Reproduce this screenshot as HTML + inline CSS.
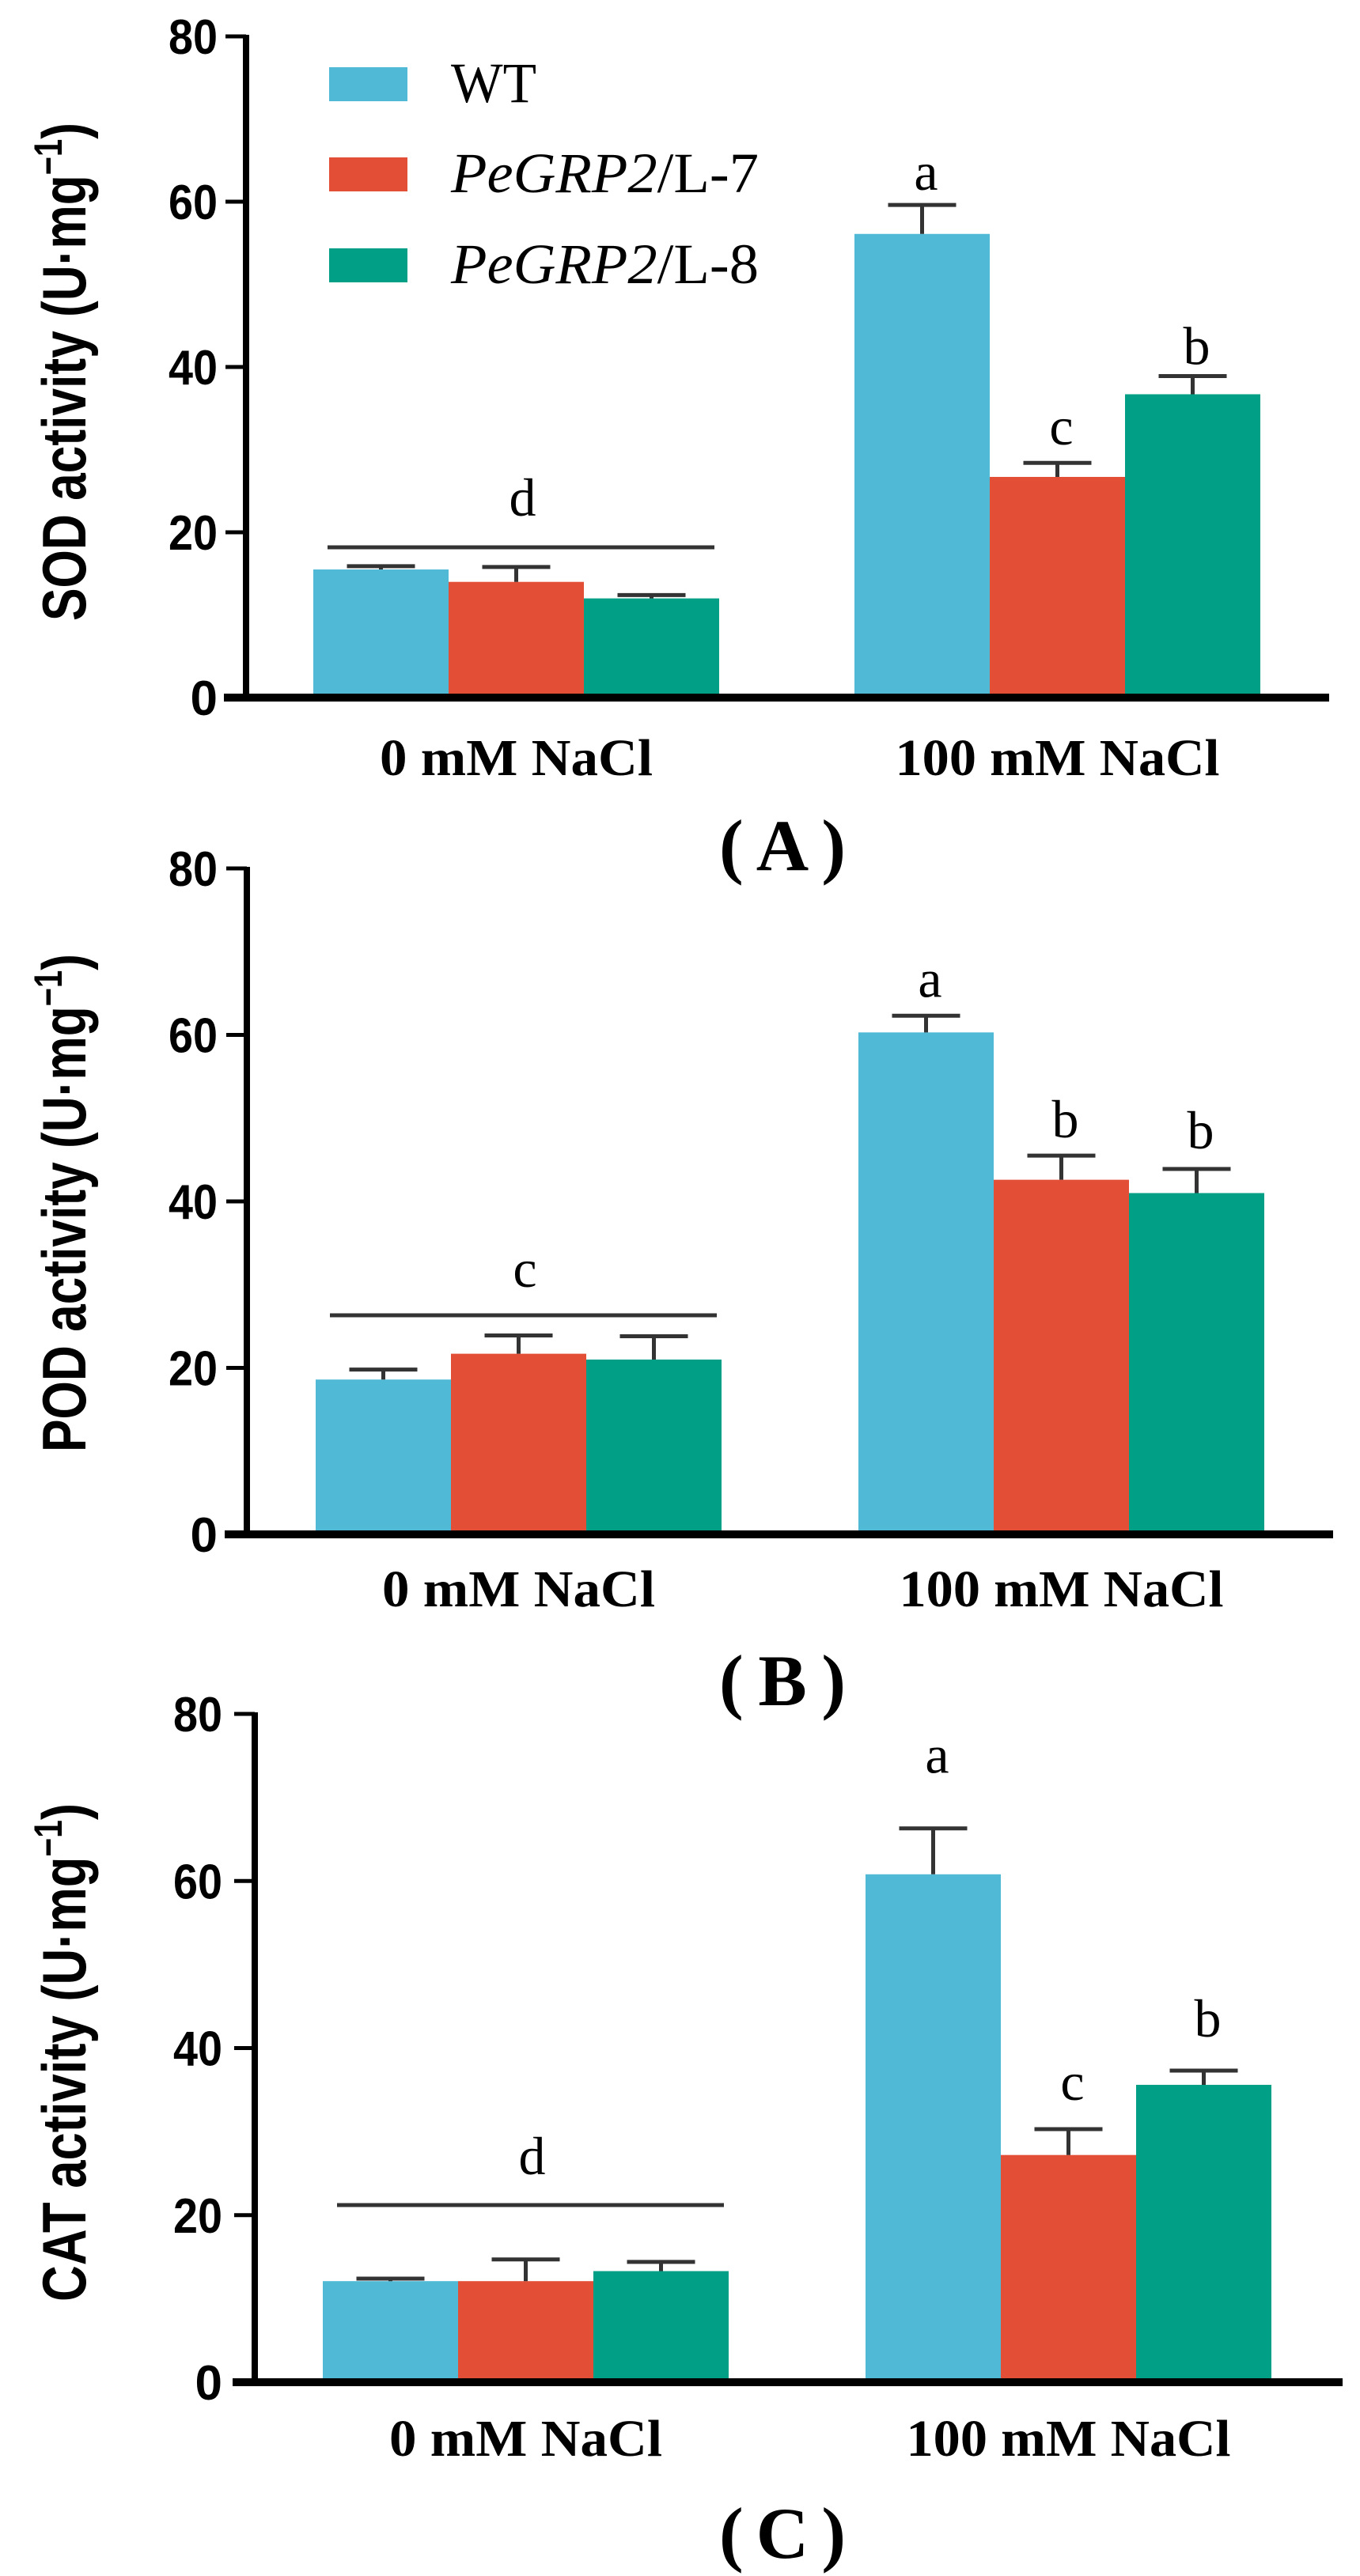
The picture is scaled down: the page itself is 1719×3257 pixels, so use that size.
<!DOCTYPE html>
<html><head><meta charset="utf-8"><style>
html,body{margin:0;padding:0;background:#fff;}
svg{display:block;}
.tick{font-family:"Liberation Sans",sans-serif;font-weight:bold;font-size:62px;}
.ytitle{font-family:"Liberation Sans",sans-serif;font-weight:bold;font-size:78px;}
.cat{font-family:"Liberation Serif",serif;font-weight:bold;font-size:66px;}
.sig{font-family:"Liberation Serif",serif;font-size:68px;}
.leg{font-family:"Liberation Serif",serif;font-size:72px;}
.plab{font-family:"Liberation Serif",serif;font-weight:bold;font-size:92px;}
</style></head><body>
<svg id="fig" width="1719" height="3257" viewBox="0 0 1719 3257" xmlns="http://www.w3.org/2000/svg"></svg>
<script>
const categories = ["0 mM NaCl", "100 mM NaCl"];
const seriesNames = ["WT", "PeGRP2/L-7", "PeGRP2/L-8"];
const yTicks = [0, 20, 40, 60, 80];
const sodValues = [[15.5, 56.1], [14.0, 26.7], [12.0, 36.7]];
const sodErrors = [[0.4, 3.5], [1.8, 1.7], [0.4, 2.2]];
const podValues = [[18.6, 60.3], [21.7, 42.6], [21.0, 41.0]];
const podErrors = [[1.2, 2.0], [2.2, 2.9], [2.8, 2.9]];
const catValues = [[12.1, 60.8], [12.1, 27.2], [13.3, 35.6]];
const catErrors = [[0.3, 5.5], [2.6, 3.1], [1.1, 1.7]];
const sodLetters = ["d", "a", "c", "b"];
const podLetters = ["c", "a", "b", "b"];
const catLetters = ["d", "a", "c", "b"];

const colors = ["#4fb9d6", "#e34f36", "#009f86"];
const NS = "http://www.w3.org/2000/svg";
const svg = document.getElementById("fig");
function mk(tag, attrs, parent) {
  const e = document.createElementNS(NS, tag);
  for (const k in attrs) e.setAttribute(k, attrs[k]);
  (parent || svg).appendChild(e);
  return e;
}

const panels = [
  {key:"sod", title:"SOD activity (U·mg", vals:sodValues, errs:sodErrors, letters:sodLetters,
   axisX:311, y80:46, y0:882, g0:396, g1:1080, bw:171, xEnd:1680, tickRight:275,
   titleC:470, titleLen:630, catY:980, labY:1100, lab:"(A)", lineY:692, letterOff:[40,19,23,15]},
  {key:"pod", title:"POD activity (U·mg", vals:podValues, errs:podErrors, letters:podLetters,
   axisX:312, y80:1098, y0:1940, g0:399, g1:1085, bw:171, xEnd:1685, tickRight:275,
   titleC:1521, titleLen:630, catY:2031, labY:2156, lab:"(B)", lineY:1663, letterOff:[36,24,23,26]},
  {key:"cat", title:"CAT activity (U·mg", vals:catValues, errs:catErrors, letters:catLetters,
   axisX:322, y80:2167, y0:3012, g0:408, g1:1094, bw:171, xEnd:1697, tickRight:281,
   titleC:2595, titleLen:630, catY:3105, labY:3234, lab:"(C)", lineY:2788, letterOff:[39,70,37,43]}
];

panels.forEach((p, pi) => {
  const g = mk("g", {});
  
  
  const yScale = v => p.y0 - (v / 80) * (p.y0 - p.y80);
  const groupX = [p.g0, p.g1];
  p.vals.forEach((sv, si) => {
    sv.forEach((v, ci) => {
      const x = groupX[ci] + si * p.bw;
      const top = yScale(v);
      const r = mk("rect", {x:x, y:top, width:p.bw, height:p.y0 - top, fill:colors[si]}, g);
      
      
      const et = yScale(v + p.errs[si][ci]);
      const cx = x + p.bw / 2;
      const eb = mk("path", {d:`M${cx} ${top} V${et} M${cx-43} ${et} H${cx+43}`, stroke:"#333", "stroke-width":5, fill:"none"}, g);
      
      
    });
  });
  const ya = mk("line", {x1:p.axisX, y1:p.y80 - 2, x2:p.axisX, y2:p.y0 + 5, stroke:"#000", "stroke-width":8}, g);
  
  
  const xa = mk("line", {x1:p.axisX - 28, y1:p.y0, x2:p.xEnd, y2:p.y0, stroke:"#000", "stroke-width":10}, g);
  
  
  yTicks.forEach(t => {
    const y = yScale(t);
    if (t > 0) {
      const tl = mk("line", {x1:p.axisX - 26, y1:y, x2:p.axisX, y2:y, stroke:"#000", "stroke-width":5}, g);
      
      
    }
    const tx = mk("text", {x:p.tickRight, y:y + 22, "text-anchor":"end", class:"tick"}, g);
    if (t > 0) { tx.setAttribute("textLength", 62); tx.setAttribute("lengthAdjust", "spacingAndGlyphs"); }
    tx.textContent = String(t);
    
    
  });
  const yt = mk("text", {x:0, y:0, transform:`translate(108 ${p.titleC}) rotate(-90)`, "text-anchor":"middle", class:"ytitle", textLength:p.titleLen, lengthAdjust:"spacingAndGlyphs"}, g);
  yt.textContent = p.title;
  const sup = mk("tspan", {dy:-30, "font-size":"50"}, yt);
  sup.textContent = "−1";
  const cl = mk("tspan", {dy:30}, yt);
  cl.textContent = ")";
  
  
  categories.forEach((c, ci) => {
    const cx = groupX[ci] + 1.5 * p.bw;
    const ct = mk("text", {x:cx, y:p.catY, "text-anchor":"middle", class:"cat", textLength: ci ? 410 : 345, lengthAdjust:"spacingAndGlyphs"}, g);
    ct.textContent = c;
    
    
  });
  const sl = mk("line", {x1:p.g0 + 18, y1:p.lineY, x2:p.g0 + 3 * p.bw - 6, y2:p.lineY, stroke:"#333", "stroke-width":5}, g);
  
  
  const l0 = mk("text", {x:p.g0 + 1.5 * p.bw + 8, y:p.lineY - p.letterOff[0], "text-anchor":"middle", class:"sig"}, g);
  l0.textContent = p.letters[0];
  
  
  for (let si = 0; si < 3; si++) {
    const v = p.vals[si][1] + p.errs[si][1];
    const lt = mk("text", {x:p.g1 + si * p.bw + p.bw / 2 + 5, y:yScale(v) - p.letterOff[si + 1], "text-anchor":"middle", class:"sig"}, g);
    lt.textContent = p.letters[si + 1];
    
    
  }
  const pl = mk("text", {x:989, y:p.labY, "text-anchor":"middle", class:"plab", textLength:160, lengthAdjust:"spacing"}, g);
  pl.textContent = p.lab;
  
  
});

const legY = [85, 199, 314];
seriesNames.forEach((n, i) => {
  const lg = mk("g", {});
  
  
  mk("rect", {x:416, y:legY[i], width:99, height:43, fill:colors[i]}, lg);
  const t = mk("text", {x:570, y:legY[i] + 44, class:"leg"}, lg);
  if (i === 0) { t.textContent = "WT"; t.setAttribute("textLength", 108); }
  else {
    const it = mk("tspan", {"font-style":"italic"}, t); it.textContent = "PeGRP2";
    const rs = mk("tspan", {}, t); rs.textContent = n.slice(6);
    t.setAttribute("textLength", 389);
  }
  t.setAttribute("lengthAdjust", "spacingAndGlyphs");
});
</script>
</body></html>
